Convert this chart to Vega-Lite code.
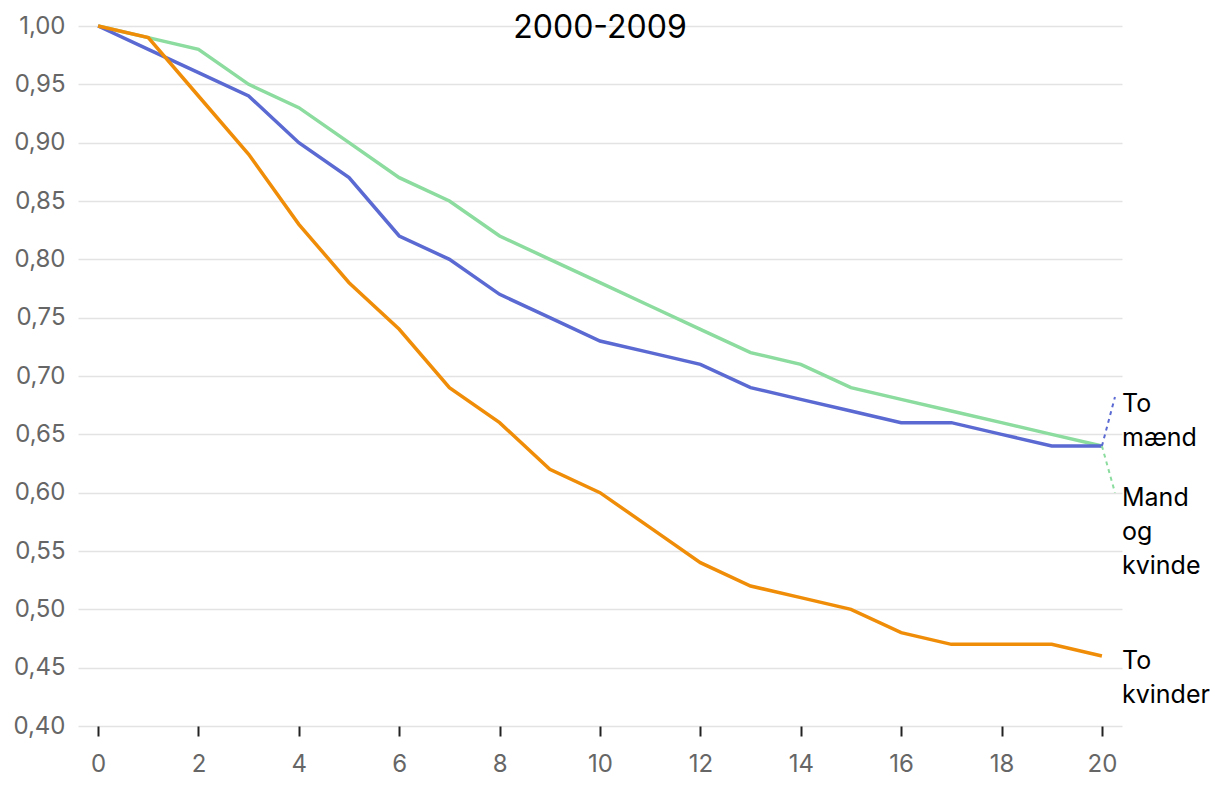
{
  "$schema": "https://vega.github.io/schema/vega-lite/v6.json",
  "autosize": "none",
  "width": 1044,
  "height": 700,
  "padding": {"left": 78, "top": 26, "right": 98, "bottom": 66},
  "background": "white",
  "config": {
    "font": "Inter",
    "view": {"stroke": null}
  },
  "title": {
    "text": "2000-2009",
    "fontSize": 32,
    "fontWeight": "normal",
    "color": "#000000",
    "anchor": "middle",
    "baseline": "alphabetic",
    "offset": 0,
    "dy": 56
  },
  "datasets": {
    "series": [
      {"year": 0, "value": 1.00, "group": "Mand og kvinde"},
      {"year": 1, "value": 0.99, "group": "Mand og kvinde"},
      {"year": 2, "value": 0.98, "group": "Mand og kvinde"},
      {"year": 3, "value": 0.95, "group": "Mand og kvinde"},
      {"year": 4, "value": 0.93, "group": "Mand og kvinde"},
      {"year": 5, "value": 0.90, "group": "Mand og kvinde"},
      {"year": 6, "value": 0.87, "group": "Mand og kvinde"},
      {"year": 7, "value": 0.85, "group": "Mand og kvinde"},
      {"year": 8, "value": 0.82, "group": "Mand og kvinde"},
      {"year": 9, "value": 0.80, "group": "Mand og kvinde"},
      {"year": 10, "value": 0.78, "group": "Mand og kvinde"},
      {"year": 11, "value": 0.76, "group": "Mand og kvinde"},
      {"year": 12, "value": 0.74, "group": "Mand og kvinde"},
      {"year": 13, "value": 0.72, "group": "Mand og kvinde"},
      {"year": 14, "value": 0.71, "group": "Mand og kvinde"},
      {"year": 15, "value": 0.69, "group": "Mand og kvinde"},
      {"year": 16, "value": 0.68, "group": "Mand og kvinde"},
      {"year": 17, "value": 0.67, "group": "Mand og kvinde"},
      {"year": 18, "value": 0.66, "group": "Mand og kvinde"},
      {"year": 19, "value": 0.65, "group": "Mand og kvinde"},
      {"year": 20, "value": 0.64, "group": "Mand og kvinde"},
      {"year": 0, "value": 1.00, "group": "To mænd"},
      {"year": 1, "value": 0.98, "group": "To mænd"},
      {"year": 2, "value": 0.96, "group": "To mænd"},
      {"year": 3, "value": 0.94, "group": "To mænd"},
      {"year": 4, "value": 0.90, "group": "To mænd"},
      {"year": 5, "value": 0.87, "group": "To mænd"},
      {"year": 6, "value": 0.82, "group": "To mænd"},
      {"year": 7, "value": 0.80, "group": "To mænd"},
      {"year": 8, "value": 0.77, "group": "To mænd"},
      {"year": 9, "value": 0.75, "group": "To mænd"},
      {"year": 10, "value": 0.73, "group": "To mænd"},
      {"year": 11, "value": 0.72, "group": "To mænd"},
      {"year": 12, "value": 0.71, "group": "To mænd"},
      {"year": 13, "value": 0.69, "group": "To mænd"},
      {"year": 14, "value": 0.68, "group": "To mænd"},
      {"year": 15, "value": 0.67, "group": "To mænd"},
      {"year": 16, "value": 0.66, "group": "To mænd"},
      {"year": 17, "value": 0.66, "group": "To mænd"},
      {"year": 18, "value": 0.65, "group": "To mænd"},
      {"year": 19, "value": 0.64, "group": "To mænd"},
      {"year": 20, "value": 0.64, "group": "To mænd"},
      {"year": 0, "value": 1.00, "group": "To kvinder"},
      {"year": 1, "value": 0.99, "group": "To kvinder"},
      {"year": 2, "value": 0.94, "group": "To kvinder"},
      {"year": 3, "value": 0.89, "group": "To kvinder"},
      {"year": 4, "value": 0.83, "group": "To kvinder"},
      {"year": 5, "value": 0.78, "group": "To kvinder"},
      {"year": 6, "value": 0.74, "group": "To kvinder"},
      {"year": 7, "value": 0.69, "group": "To kvinder"},
      {"year": 8, "value": 0.66, "group": "To kvinder"},
      {"year": 9, "value": 0.62, "group": "To kvinder"},
      {"year": 10, "value": 0.60, "group": "To kvinder"},
      {"year": 11, "value": 0.57, "group": "To kvinder"},
      {"year": 12, "value": 0.54, "group": "To kvinder"},
      {"year": 13, "value": 0.52, "group": "To kvinder"},
      {"year": 14, "value": 0.51, "group": "To kvinder"},
      {"year": 15, "value": 0.50, "group": "To kvinder"},
      {"year": 16, "value": 0.48, "group": "To kvinder"},
      {"year": 17, "value": 0.47, "group": "To kvinder"},
      {"year": 18, "value": 0.47, "group": "To kvinder"},
      {"year": 19, "value": 0.47, "group": "To kvinder"},
      {"year": 20, "value": 0.46, "group": "To kvinder"}
    ],
    "connectors": [
      {"year": 20, "value": 0.64, "group": "To mænd", "end": "a"},
      {"year": 20.26, "value": 0.682, "group": "To mænd", "end": "b"},
      {"year": 20, "value": 0.64, "group": "Mand og kvinde", "end": "a"},
      {"year": 20.26, "value": 0.60, "group": "Mand og kvinde", "end": "b"}
    ],
    "labels": [
      {"year": 20.4, "value": 0.669, "label": ["To", "mænd"]},
      {"year": 20.4, "value": 0.589, "label": ["Mand", "og", "kvinde"]},
      {"year": 20.4, "value": 0.449, "label": ["To", "kvinder"]}
    ]
  },
  "encoding": {
    "x": {
      "field": "year",
      "type": "quantitative",
      "scale": {"domain": [-0.4, 20.4], "nice": false, "zero": false},
      "axis": {
        "title": null,
        "values": [0, 2, 4, 6, 8, 10, 12, 14, 16, 18, 20],
        "grid": false,
        "domain": false,
        "ticks": true,
        "tickSize": 10,
        "tickWidth": 2,
        "tickColor": "#222222",
        "labelFontSize": 24,
        "labelColor": "#666666",
        "labelPadding": 16
      }
    },
    "y": {
      "field": "value",
      "type": "quantitative",
      "scale": {"domain": [0.4, 1.0], "nice": false, "zero": false},
      "axis": {
        "title": null,
        "values": [0.4, 0.45, 0.5, 0.55, 0.6, 0.65, 0.7, 0.75, 0.8, 0.85, 0.9, 0.95, 1.0],
        "labelExpr": "replace(format(datum.value, '.2f'), '.', ',')",
        "grid": true,
        "gridColor": "#e3e3e3",
        "gridWidth": 1.5,
        "domain": false,
        "ticks": false,
        "labelFontSize": 24,
        "labelColor": "#666666",
        "labelPadding": 13
      }
    }
  },
  "layer": [
    {
      "data": {"name": "series"},
      "mark": {"type": "line", "strokeWidth": 3.5, "strokeJoin": "miter"},
      "encoding": {
        "color": {
          "field": "group",
          "type": "nominal",
          "scale": {
            "domain": ["Mand og kvinde", "To mænd", "To kvinder"],
            "range": ["#8bdc9e", "#5a6ad2", "#f08d08"]
          },
          "legend": null
        },
        "order": {"field": "year", "type": "quantitative"}
      }
    },
    {
      "data": {"name": "connectors"},
      "mark": {"type": "line", "strokeWidth": 2, "strokeDash": [4, 4]},
      "encoding": {
        "color": {"field": "group", "type": "nominal", "legend": null},
        "detail": {"field": "group"}
      }
    },
    {
      "data": {"name": "labels"},
      "mark": {
        "type": "text",
        "align": "left",
        "baseline": "alphabetic",
        "fontSize": 25,
        "color": "#000000",
        "lineHeight": 34
      },
      "encoding": {
        "text": {"field": "label"}
      }
    }
  ]
}
